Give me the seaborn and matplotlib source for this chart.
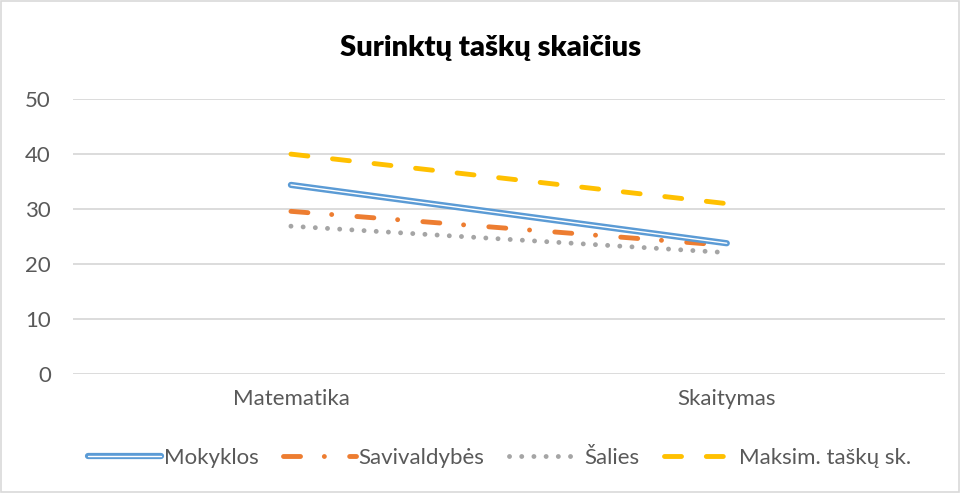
import pandas as pd
import matplotlib.pyplot as plt
import seaborn as sns
from matplotlib.patches import Rectangle
from matplotlib.legend_handler import HandlerTuple

# data
categories = ["Matematika", "Skaitymas"]
mokyklos = [34.4, 23.8]
savivaldybes = [29.6, 23.4]
salies = [26.9, 22.1]
maksim = [40, 31]

df = pd.DataFrame({"Dalykas": categories, "Mokyklos": mokyklos, "Savivaldybės": savivaldybes,
                   "Šalies": salies, "Maksim. taškų sk.": maksim})
df["x"] = range(len(categories))

sns.set_style("white")
plt.rcParams["font.family"] = ["Lato", "DejaVu Sans"]

fig = plt.figure(figsize=(9.61, 4.93), dpi=100)
ax = fig.add_axes([0.076, 0.241, 0.907, 0.558])

lw = 3.5
# Mokyklos: blue double line
sns.lineplot(data=df, x="x", y="Mokyklos", ax=ax, color="#5B9BD5", linewidth=4.5, solid_capstyle="round", zorder=3)
sns.lineplot(data=df, x="x", y="Mokyklos", ax=ax, color="white", linewidth=1.0, solid_capstyle="round", zorder=3)
sns.lineplot(data=df, x="x", y="Savivaldybės", ax=ax, color="#ED7D31", linewidth=lw, zorder=2)
sns.lineplot(data=df, x="x", y="Šalies", ax=ax, color="#A5A5A5", linewidth=lw, zorder=2)
sns.lineplot(data=df, x="x", y="Maksim. taškų sk.", ax=ax, color="#FFC000", linewidth=lw, zorder=2)

lines = ax.get_lines()
lines[2].set_dashes((3.5, 4.9, 0.01, 5.2))
lines[3].set_dashes((0.01, 2.5))
lines[4].set_dashes((3.5, 5.1))
for ln in lines[2:]:
    ln.set_dash_capstyle("round")

ax.set_xlim(-0.5, 1.5)
ax.set_ylim(0, 50)
ax.set_yticks(range(0, 51, 10))
ax.set_xticks(df["x"])
ax.set_xticklabels(categories)
ax.grid(axis="y", color="#D9D9D9", linewidth=1.3)
ax.set_axisbelow(True)
for s in ax.spines.values():
    s.set_visible(False)
ax.tick_params(axis="both", length=0, labelsize=16, colors="#595959")
ax.tick_params(axis="y", pad=16)
ax.tick_params(axis="x", pad=11)
ax.set_xlabel("")
ax.set_ylabel("")

fig.text(0.51, 0.903, "Surinktų taškų skaičius", ha="center", va="center",
         fontsize=21, fontweight="heavy", color="black")

handles = [(lines[0], lines[1]), lines[2], lines[3], lines[4]]
labels = ["Mokyklos", "Savivaldybės", "Šalies", "Maksim. taškų sk."]
fig.legend(handles, labels, loc="center", bbox_to_anchor=(0.52, 0.072), ncol=4, frameon=False,
           fontsize=16, handlelength=3.3, handletextpad=0.1, columnspacing=1.1,
           handler_map={tuple: HandlerTuple(ndivide=1)}, labelcolor="#595959")

fig.patches.append(Rectangle((0.001, 0.002), 0.997, 0.995, transform=fig.transFigure,
                             fill=False, edgecolor="#D9D9D9", linewidth=1.2))

plt.savefig("out.png", dpi=100)
